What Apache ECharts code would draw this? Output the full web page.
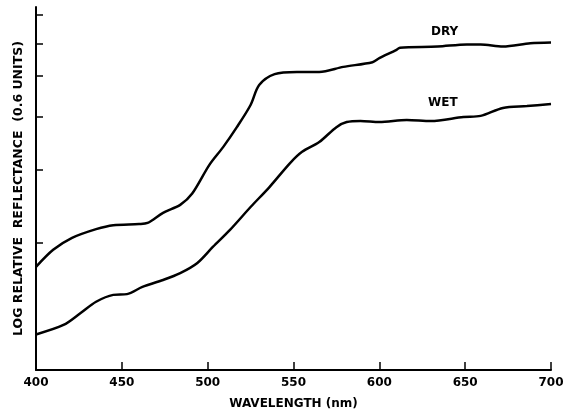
<!DOCTYPE html>
<html>
<head>
<meta charset="utf-8">
<script src="https://cdn.jsdelivr.net/npm/echarts@6/dist/echarts.min.js"></script>
<style>
  html, body { margin: 0; padding: 0; background: #fff; }
  #chart { width: 564px; height: 411px; }
</style>
</head>
<body>
<div id="chart"></div>
<script>
// wavelength (nm) and relative log reflectance (0 = x axis, 100 = top of y axis)
var dryNm = [400, 410, 421, 435, 445, 460, 465, 474, 484, 491, 501, 509, 517, 525, 530, 539, 552, 565, 579, 596, 600, 610, 612, 634, 651, 659, 672, 688, 700]
var dryVal = [28.4, 33.1, 36.4, 38.8, 39.9, 40.2, 40.5, 43.3, 45.5, 48.6, 56.5, 61.4, 66.9, 73.0, 78.5, 81.5, 82.1, 82.1, 83.5, 84.8, 85.9, 88.2, 88.8, 89.1, 89.7, 89.7, 89.1, 90.0, 90.2]

var wetNm = [400, 416, 426, 435, 445, 453, 462, 474, 484, 494, 503, 513, 525, 536, 548, 555, 565, 575, 581, 589, 600, 616, 630, 649, 659, 672, 686, 700]
var wetVal = [9.8, 12.4, 15.7, 18.8, 20.7, 20.9, 22.9, 24.8, 26.7, 29.5, 33.9, 38.6, 44.9, 50.4, 57.0, 60.1, 62.8, 66.9, 68.3, 68.6, 68.3, 68.9, 68.6, 69.7, 70.0, 72.2, 72.7, 73.3]

// unlabeled y ticks (uneven, log scale)
var yTicks = [35.0, 55.1, 69.7, 81.0, 89.8, 97.8]

var dryLabelAt = [638, 93.1]
var wetLabelAt = [637, 73.6]

function pairs(xs, ys) {
  var out = []
  for (var i = 0; i < xs.length; i++) {
    out.push([xs[i], ys[i]])
  }
  return out
}

function curveLabel(text, at) {
  return {
    symbol: 'circle',
    symbolSize: 1,
    itemStyle: { color: 'rgba(0,0,0,0)' },
    label: {
      show: true,
      position: 'inside',
      formatter: text,
      color: '#000',
      fontFamily: font,
      fontWeight: 'bold',
      fontSize: 12
    },
    data: [{ coord: at }]
  }
}

var font = 'DejaVu Sans'
var myChart = echarts.init(document.getElementById('chart'))
var option = {
  backgroundColor: '#fff',
  animation: false,
  grid: { left: 36, right: 13, top: 7, bottom: 41, outerBoundsMode: 'none' },
  xAxis: {
    type: 'value',
    min: 400,
    max: 700,
    interval: 50,
    name: 'WAVELENGTH (nm)',
    nameLocation: 'middle',
    nameGap: 28,
    nameTextStyle: { color: '#000', fontFamily: font, fontWeight: 'bold', fontSize: 12 },
    axisLine: { lineStyle: { color: '#000', width: 2 } },
    axisTick: { inside: true, length: 8, lineStyle: { color: '#000', width: 1.5 } },
    axisLabel: { color: '#000', fontFamily: font, fontWeight: 'bold', fontSize: 12, margin: 7 },
    splitLine: { show: false }
  },
  yAxis: {
    type: 'value',
    min: 0,
    max: 100,
    name: 'LOG RELATIVE  REFLECTANCE  (0.6 UNITS)',
    nameLocation: 'middle',
    nameRotate: 90,
    nameGap: 11,
    nameTextStyle: { color: '#000', fontFamily: font, fontWeight: 'bold', fontSize: 12.5 },
    axisLine: { show: true, lineStyle: { color: '#000', width: 2 } },
    axisTick: { show: true, inside: true, length: 7, customValues: yTicks, lineStyle: { color: '#000', width: 1.5 } },
    axisLabel: { show: false },
    splitLine: { show: false }
  },
  series: [
    {
      name: 'DRY',
      type: 'line',
      data: pairs(dryNm, dryVal),
      smooth: 0.3,
      symbol: 'none',
      lineStyle: { color: '#000', width: 2.5 },
      markPoint: curveLabel('DRY', dryLabelAt)
    },
    {
      name: 'WET',
      type: 'line',
      data: pairs(wetNm, wetVal),
      smooth: 0.3,
      symbol: 'none',
      lineStyle: { color: '#000', width: 2.5 },
      markPoint: curveLabel('WET', wetLabelAt)
    }
  ]
}
myChart.setOption(option)
</script>
</body>
</html>
